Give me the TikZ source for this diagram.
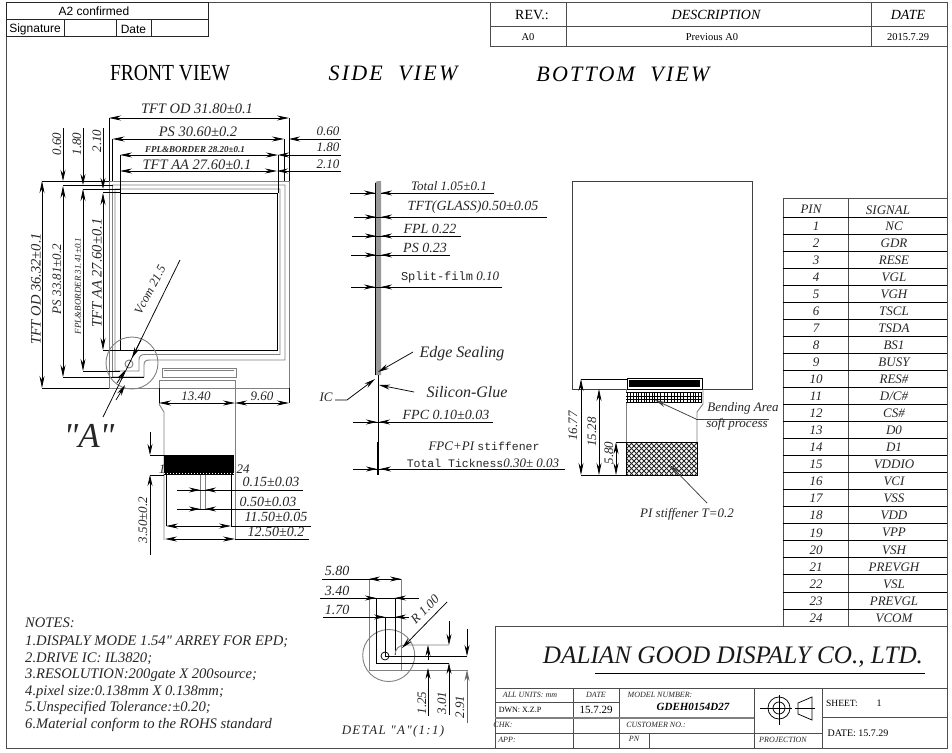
\documentclass[tikz,border=0pt]{standalone}
\usepackage{fontspec}
\setmainfont{Liberation Serif}
\newfontfamily\sansfont{Liberation Sans}
\newfontfamily\monofont{Liberation Mono}
\newfontfamily\headfont[FakeStretch=0.85]{Liberation Serif}
\newfontfamily\viewfont[LetterSpace=10]{Liberation Serif}
\newfontfamily\plainfont{Liberation Serif}
\usetikzlibrary{arrows.meta}
\tikzset{
    x=1pt, y=-1pt,
    frameline/.style={draw=black!70, line width=1pt},
    dimline/.style={draw=black, line width=0.75pt},
    greyline/.style={draw=black!50, line width=0.9pt},
    dimarrow/.style={draw=black, line width=0.75pt, -{Stealth[length=11pt,width=5pt]}},
    dimboth/.style={draw=black, line width=0.75pt, {Stealth[length=12pt,width=5pt]}-{Stealth[length=12pt,width=5pt]}},
    dimtext/.style={font=\fontsize{13}{13}\selectfont\itshape, inner sep=0pt, text=black!85},
    largetext/.style={font=\fontsize{14.5}{14.5}\selectfont\itshape, inner sep=0pt, text=black!85},
    notetext/.style={font=\fontsize{14.6}{14.6}\plainfont\itshape, inner sep=0pt, text=black!85, anchor=west},
    smalltext/.style={font=\fontsize{8}{8}\selectfont\itshape, inner sep=0pt, text=black!85},
    pintext/.style={font=\fontsize{13}{13}\selectfont\itshape, inner sep=0pt, text=black!85}
}
\begin{document}
\begin{tikzpicture}
    \useasboundingbox (0,0) rectangle (952,752);
    \fill[white] (0,0) rectangle (952,752);

    % Sheet frame
    \draw[frameline] (6,3) -- (947,3) -- (947,748) -- (6,748) -- cycle;

    % A2 table
    \draw[frameline, draw=black!85] (6,3) rectangle (208,37);
    \draw[frameline, draw=black!85] (6,20) -- (208,20);
    \draw[frameline, draw=black!85] (64,20) -- (64,37);
    \draw[frameline, draw=black!85] (116,20) -- (116,37);
    \draw[frameline, draw=black!85] (151,20) -- (151,37);
    \node[font=\fontsize{12}{12}\sansfont] (confirmed) at (94,11.5) {A2 confirmed};
    \node[font=\fontsize{12}{12}\sansfont] (signature) at (35,29) {Signature};
    \node[font=\fontsize{12}{12}\sansfont] (datecell) at (133.5,29) {Date};

    % Revision table
    \draw[frameline] (490,3) rectangle (947,47);
    \draw[frameline] (490,27) -- (947,27);
    \draw[frameline] (566,3) -- (566,47);
    \draw[frameline] (871,3) -- (871,47);
    \node[font=\fontsize{14}{14}\selectfont] (rev) at (532,15) {REV.:};
    \node[font=\fontsize{14}{14}\selectfont\itshape] (description) at (716,15) {DESCRIPTION};
    \node[font=\fontsize{14}{14}\selectfont\itshape] (daterev) at (908,15) {DATE};
    \node[font=\fontsize{10.5}{10.5}\selectfont] (aa) at (528,37.5) {A0};
    \node[font=\fontsize{10.5}{10.5}\selectfont] (previous) at (712,37.5) {Previous A0};
    \node[font=\fontsize{10.5}{10.5}\selectfont] (revdate) at (908,37.5) {2015.7.29};

    % View titles
    \node[font=\fontsize{23}{23}\headfont] (frontview) at (170,73) {FRONT VIEW};
    \node[font=\fontsize{22}{22}\viewfont\itshape] (sideview) at (393,73) {SIDE\ \ VIEW};
    \node[font=\fontsize{22}{22}\viewfont\itshape] (bottomview) at (623,74) {BOTTOM\ \ VIEW};

    % Front view, panel contours
    \draw[greyline] (109,181) -- (289,181) -- (289,388) -- (109,388) -- cycle;
    \draw[greyline] (112.5,185) -- (285,185) -- (285,360) -- (150,360)
        .. controls (146,360) and (144,361) .. (144,365) -- (144,377) -- (112.5,377) -- cycle;
    \draw[greyline] (115,189) -- (280,189) -- (280,354.5) -- (145,354.5)
        .. controls (141,354.5) and (139,356) .. (139,360) -- (139,371) -- (115,371) -- cycle;
    \draw[dimline] (120,193) -- (277,193) -- (277,350.5) -- (120,350.5) -- cycle;

    % Front view, FPC tail
    \draw[greyline] (162,368) rectangle (236,377);
    \draw[greyline] (164,370) -- (234,370);
    \draw[greyline] (159,404) -- (159,380) -- (235,380) -- (235,540);
    \draw[greyline] (159,404) -- (164,412) -- (164,540);
    \fill[black] (164,455) rectangle (234,475);
    \draw[white, line width=1pt, dash pattern=on 1pt off 2pt] (164,473.5) -- (234,473.5);
    \draw[greyline] (200,475) -- (200,510);
    \draw[greyline] (205,475) -- (205,510);

    % Front view, top dimensions
    \draw[dimline] (109,118) -- (109,181);
    \draw[dimline] (289,118) -- (289,181);
    \draw[dimline] (112.5,139) -- (112.5,181);
    \draw[dimline] (284,139) -- (284,181);
    \draw[dimline] (120,155) -- (120,193);
    \draw[dimline] (278,155) -- (278,193);
    \draw[dimboth] (109,118) -- (289,118);
    \draw[dimboth] (112.5,139) -- (284,139);
    \draw[dimboth] (120,155) -- (278,155);
    \draw[dimboth] (120,171) -- (277,171);
    \node[largetext] (tftod) at (197,109) {TFT OD 31.80±0.1};
    \node[largetext] (psw) at (198,132) {PS 30.60±0.2};
    \node[smalltext, font=\fontsize{9}{9}\selectfont\itshape\bfseries] (fplw) at (195,149.5) {FPL\&BORDER 28.20±0.1};
    \node[largetext] (tftaa) at (197,165) {TFT AA 27.60±0.1};

    % Front view, right offsets
    \draw[dimarrow] (341,139) -- (289,139);
    \draw[dimarrow] (341,155) -- (278,155);
    \draw[dimarrow] (341,171) -- (277,171);
    \node[dimtext] (rightsix) at (328,131) {0.60};
    \node[dimtext] (righteight) at (328,147) {1.80};
    \node[dimtext] (rightten) at (328,164) {2.10};

    % Front view, left dimensions
    \draw[dimline] (42,181) -- (109,181);
    \draw[dimline] (63,185.5) -- (113,185.5);
    \draw[dimline] (83,189) -- (120,189);
    \draw[dimline] (103,192.5) -- (120,192.5);
    \draw[dimline] (42,388) -- (109,388);
    \draw[dimline] (63,377) -- (144,377);
    \draw[dimline] (83,371) -- (120,371);
    \draw[dimline] (103,350.5) -- (120,350.5);
    \draw[dimboth] (42,181) -- (42,388);
    \draw[dimboth] (63,186) -- (63,377);
    \draw[dimboth] (83,189) -- (83,371);
    \draw[dimboth] (103,193) -- (103,350);
    \draw[dimarrow] (63,128) -- (63,181);
    \draw[dimarrow] (83,128) -- (83,185);
    \draw[dimarrow] (103,128) -- (103,189);
    \node[dimtext, rotate=90] (topsix) at (57,144) {0.60};
    \node[dimtext, rotate=90] (topeight) at (77,144) {1.80};
    \node[dimtext, rotate=90] (topten) at (97,141) {2.10};
    \node[largetext, rotate=90] (tftodh) at (36,289) {TFT OD 36.32±0.1};
    \node[dimtext, rotate=90] (psh) at (57,279) {PS 33.81±0.2};
    \node[smalltext, rotate=90, font=\fontsize{9}{9}\selectfont\itshape] (fplh) at (78,286) {FPL\&BORDER 31.41±0.1};
    \node[largetext, rotate=90] (tftaah) at (97,273) {TFT AA 27.60±0.1};

    % Front view, detail circle
    \draw[greyline] (132,363) circle (26pt);
    \draw[greyline] (129,364) circle (4pt);
    \draw[dimline] (180,260) -- (103,417);
    \draw[dimarrow] (141,340) -- (132,358);
    \draw[dimarrow] (117,383) -- (125.5,370);
    \draw[dimarrow] (116,400) -- (125,385);
    \node[dimtext, rotate=62, font=\fontsize{12.5}{12.5}\selectfont\itshape] (vcom) at (150,290) {Vcom 21.5};
    \node[font=\fontsize{35}{35}\plainfont\itshape, inner sep=0pt, text=black!85] (detaila) at (89,436) {"A"};

    % Front view, tail dimensions
    \draw[dimline] (289,388) -- (289,403);
    \draw[dimline] (159,388) -- (159,403);
    \draw[dimboth] (159,403) -- (235,403);
    \draw[dimboth] (235,403) -- (289,403);
    \node[dimtext] (tailleft) at (196,396) {13.40};
    \node[dimtext] (tailright) at (262,396) {9.60};
    \node[dimtext] (pinone) at (162,469) {1};
    \node[dimtext] (pinlast) at (243,469) {24};
    \draw[dimline] (150,455) -- (164,455);
    \draw[dimline] (150,475) -- (164,475);
    \draw[dimarrow] (150,432) -- (150,455);
    \draw[dimarrow] (150,555) -- (150,475);
    \node[dimtext, rotate=90] (contact) at (143,520) {3.50±0.2};
    \draw[dimline] (166,475) -- (166,526);
    \draw[dimline] (231,475) -- (231,526);
    \draw[dimline] (177,490) -- (303,490);
    \draw[dimarrow] (187,490) -- (200,490);
    \draw[dimarrow] (218,490) -- (205,490);
    \draw[dimline] (177,509) -- (300,509);
    \draw[dimarrow] (187,509) -- (200,509);
    \draw[dimarrow] (218,509) -- (205,509);
    \draw[dimline] (231,526) -- (311,526);
    \draw[dimboth] (166,526) -- (231,526);
    \draw[dimline] (235,539) -- (309,539);
    \draw[dimboth] (165,539) -- (235,539);
    \node[dimtext, font=\fontsize{14}{14}\selectfont\itshape] (pitcha) at (271,482) {0.15±0.03};
    \node[dimtext, font=\fontsize{14}{14}\selectfont\itshape] (pitchb) at (268,502) {0.50±0.03};
    \node[dimtext, font=\fontsize{14}{14}\selectfont\itshape] (pitchc) at (276,517) {11.50±0.05};
    \node[dimtext, font=\fontsize{14}{14}\selectfont\itshape] (pitchd) at (276,532) {12.50±0.2};

    % Side view
    \fill[black!40] (375,183) -- (377,181) -- (381,181) -- (381,375) -- (375,375) -- cycle;
    \draw[dimline] (375.5,183) -- (375.5,375);
    \draw[dimline] (378,375) -- (378,475);
    \draw[dimline, line width=1.6pt] (378,442) -- (378,475);

    % Side view, thickness dimensions
    \draw[dimline] (350,193) -- (375,193);
    \draw[dimarrow] (362,193) -- (375,193);
    \draw[dimline] (381,193) -- (494,193);
    \draw[dimarrow] (394,193) -- (381,193);
    \draw[dimline] (354,217) -- (547,217);
    \draw[dimarrow] (366,217) -- (376,217);
    \draw[dimarrow] (391,217) -- (381,217);
    \draw[dimline] (352,236) -- (461,236);
    \draw[dimarrow] (364,236) -- (376,236);
    \draw[dimarrow] (391,236) -- (381,236);
    \draw[dimline] (351,255) -- (450,255);
    \draw[dimarrow] (363,255) -- (376,255);
    \draw[dimarrow] (391,255) -- (381,255);
    \draw[dimline] (351,287) -- (502,287);
    \draw[dimarrow] (362,287) -- (375,287);
    \draw[dimarrow] (391,287) -- (381,287);
    \draw[dimline] (353,422) -- (493,422);
    \draw[dimarrow] (365,422) -- (377,422);
    \draw[dimarrow] (391,422) -- (379,422);
    \draw[dimline] (353,469) -- (565,469);
    \draw[dimarrow] (365,469) -- (377,469);
    \draw[dimarrow] (392,469) -- (380,469);
    \node[dimtext] (total) at (449,186) {Total 1.05±0.1};
    \node[dimtext, font=\fontsize{14}{14}\selectfont\itshape] (glass) at (473,207) {TFT(GLASS)0.50±0.05};
    \node[dimtext, font=\fontsize{14}{14}\selectfont\itshape] (fplt) at (430,229) {FPL 0.22};
    \node[dimtext, font=\fontsize{14}{14}\selectfont\itshape] (pst) at (425,248) {PS 0.23};
    \node[dimtext] (split) at (450,277) {{\fontsize{12}{12}\monofont\upshape Split-film} 0.10};
    \node[dimtext, font=\fontsize{14}{14}\selectfont\itshape] (fpct) at (446,415) {FPC 0.10±0.03};
    \node[dimtext] (stiffener) at (484,446) {FPC+PI {\fontsize{11.5}{11.5}\monofont\upshape stiffener}};
    \node[dimtext] (thickness) at (483,463) {{\fontsize{11.5}{11.5}\monofont\upshape Total Tickness}0.30± 0.03};

    % Side view, leaders
    \node[font=\fontsize{16}{16}\selectfont\itshape, inner sep=0pt, text=black!85] (edge) at (462,354) {Edge Sealing};
    \node[font=\fontsize{16}{16}\selectfont\itshape, inner sep=0pt, text=black!85] (silicon) at (467,392) {Silicon-Glue};
    \node[font=\fontsize{13}{13}\selectfont\itshape, inner sep=0pt, text=black!85] (ic) at (326,397) {IC};
    \draw[dimarrow] (413,352) -- (378,372);
    \draw[dimarrow] (414,392) -- (379,385);
    \draw[dimarrow] (335,400) -- (347,400) -- (375,379);

    % Bottom view
    \draw[dimline, draw=black!75] (572,181) rectangle (752,389);
    \draw[dimline] (627,378) rectangle (702,389);
    \fill[black] (628.5,379.5) rectangle (700,387);
    \draw[greyline] (626.5,389) -- (626.5,475);
    \draw[greyline] (703,389) -- (703,404) -- (697,412) -- (697,442);
    \fill[white] (626,392) rectangle (702,402);
    \foreach \gridx in {627,630,633,636,638,641,644,646,649,652,654,657,660,664,667,671,674,677,680,683,687,690,693,695,698,701}
        \draw[black, line width=0.6pt] (\gridx,392) -- (\gridx,402);
    \draw[dimline] (626,392) -- (702,392);
    \draw[dimline] (626,396) -- (702,396);
    \draw[dimline] (626,399) -- (702,399);
    \draw[dimline, line width=1pt] (626,402) -- (702,402);

    % Bottom view, PI stiffener hatch
    \begin{scope}
        \clip (626,442) rectangle (697,475);
        \foreach \hatchx in {590,595,...,710} {
            \draw[black!85, line width=0.9pt] (\hatchx,442) -- (\hatchx+33,475);
            \draw[black!85, line width=0.9pt] (\hatchx+33,442) -- (\hatchx,475);
        }
    \end{scope}
    \draw[dimline] (626,442) rectangle (697,475);

    % Bottom view, dimensions
    \draw[dimline] (581,379) -- (628,379);
    \draw[dimline] (581,475) -- (628,475);
    \draw[dimline] (616,442) -- (626,442);
    \draw[dimboth, line width=0.9pt] (581,379) -- (581,475);
    \draw[dimboth, line width=0.9pt] (599,389) -- (599,475);
    \draw[dimboth, line width=0.9pt] (616,442) -- (616,475);
    \node[dimtext, rotate=90] (botfull) at (573,426) {16.77};
    \node[dimtext, rotate=90] (botpart) at (592,432) {15.28};
    \node[dimtext, rotate=90] (botshort) at (609,453) {5.80};

    % Bottom view, leaders
    \draw[dimarrow, draw=black!75] (696,419) -- (655,400);
    \draw[dimline, draw=black!75] (696,419) -- (769,419);
    \draw[dimarrow, draw=black!75] (707,503) -- (670,465);
    \node[dimtext] (bending) at (743,408) {Bending Area};
    \node[dimtext] (softproc) at (737,424) {soft process};
    \node[dimtext] (pistiff) at (687,514) {PI stiffener T=0.2};

    % Pin table
    \draw[frameline] (783,198) -- (947,198);
    \draw[frameline] (783,198) -- (783,626);
    \draw[frameline] (848,198) -- (848,626);
    \foreach \row in {0,...,24}
        \draw[dimline] (783,217+17.04*\row) -- (947,217+17.04*\row);
    \node[pintext] (pinhead) at (811,209) {PIN};
    \node[pintext] (signalhead) at (888,210) {SIGNAL};
    \foreach \pin/\signal in {1/NC,2/GDR,3/RESE,4/VGL,5/VGH,6/TSCL,7/TSDA,8/BS1,9/BUSY,10/RES\#,11/{D/C\#},12/CS\#,13/D0,14/D1,15/VDDIO,16/VCI,17/VSS,18/VDD,19/VPP,20/VSH,21/PREVGH,22/VSL,23/PREVGL,24/VCOM} {
        \node[pintext] (pin\pin) at (816,209+17.04*\pin) {\pin};
        \node[pintext] (signal\pin) at (894,209+17.04*\pin) {\signal};
    }

    % Detail A
    \draw[greyline] (388.7,655.5) circle (26pt);
    \draw[dimline] (385,656) circle (4pt);
    \draw[greyline] (369,579) -- (369,670) -- (468,670);
    \draw[greyline] (401,579) -- (401,670);
    \draw[dimline] (376,598) -- (376,663) -- (449,663);
    \draw[dimline] (385,617) -- (385,656) -- (467,656);
    \draw[dimline] (395,598) -- (395,655);
    \draw[greyline] (395,655) .. controls (395,649) and (399,645) .. (405,645) -- (449,645);
    \draw[dimline] (322,579) -- (401,579);
    \draw[dimarrow] (381,579) -- (369,579);
    \draw[dimarrow] (389,579) -- (401,579);
    \draw[dimline] (320,598) -- (419,598);
    \draw[dimarrow] (364,598) -- (376,598);
    \draw[dimarrow] (407,598) -- (395,598);
    \draw[dimline] (323,617) -- (409,617);
    \draw[dimarrow] (364,617) -- (385,617);
    \draw[dimarrow] (404,617) -- (395,617);
    \node[dimtext, font=\fontsize{14}{14}\selectfont\itshape] (detaillong) at (337,571) {5.80};
    \node[dimtext, font=\fontsize{14}{14}\selectfont\itshape] (detailmid) at (337,591) {3.40};
    \node[dimtext, font=\fontsize{14}{14}\selectfont\itshape] (detailshort) at (337,610) {1.70};
    \draw[dimarrow] (447,602) -- (402,648);
    \node[dimtext, rotate=45] (radius) at (425,609) {R 1.00};
    \draw[dimarrow] (428,660) -- (428,645);
    \draw[dimarrow] (428,716) -- (428,668);
    \draw[dimarrow] (449,621) -- (449,645);
    \draw[dimarrow] (449,715) -- (449,663);
    \draw[dimarrow] (467,629) -- (467,656);
    \draw[dimarrow, draw=black!60] (467,723) -- (467,670);
    \node[dimtext, rotate=90] (detaila25) at (422,703) {1.25};
    \node[dimtext, rotate=90] (detaila01) at (442,703) {3.01};
    \node[dimtext, rotate=90] (detaila91) at (460,707) {2.91};
    \node[font=\fontsize{13}{13}\viewfont\itshape, inner sep=0pt, text=black!85] (detailname) at (393,731) {DETAL "A"(1:1)};

    % Notes
    \node[notetext] (notes) at (25,623) {NOTES:};
    \node[notetext] (noteone) at (25,642) {1.DISPALY MODE 1.54" ARREY FOR EPD;};
    \node[notetext] (notetwo) at (25,659) {2.DRIVE IC: IL3820;};
    \node[notetext] (notethree) at (25,675) {3.RESOLUTION:200gate X 200source;};
    \node[notetext] (notefour) at (25,692) {4.pixel size:0.138mm X 0.138mm;};
    \node[notetext] (notefive) at (25,708) {5.Unspecified Tolerance:±0.20;};
    \node[notetext] (notesix) at (25,725) {6.Material conform to the ROHS standard};

    % Title block
    \draw[frameline] (495,626) rectangle (947,748);
    \draw[frameline] (495,688) -- (947,688);
    \draw[frameline] (573,688) -- (573,748);
    \draw[frameline] (619,688) -- (619,748);
    \draw[frameline] (754,688) -- (754,748);
    \draw[frameline] (822,688) -- (822,748);
    \draw[frameline] (495,702) -- (619,702);
    \draw[greyline, line width=1.4pt] (495,718) -- (754,718);
    \draw[frameline] (495,733) -- (822,733);
    \draw[frameline] (649,733) -- (649,748);
    \draw[frameline] (822,717) -- (947,717);
    \node[font=\fontsize{25.2}{25.2}\selectfont\itshape, inner sep=0pt, text=black!90] (company) at (733,657) {DALIAN GOOD DISPALY CO., LTD.};
    \draw[dimline] (595,673) -- (925,673);
    \node[smalltext] (units) at (530,695) {ALL UNITS: mm};
    \node[smalltext] (dateblock) at (596,695) {DATE};
    \node[smalltext] (model) at (660,695) {MODEL NUMBER:};
    \node[font=\fontsize{11}{11}\selectfont\itshape\bfseries, inner sep=0pt] (modelname) at (693,707) {GDEH0154D27};
    \node[font=\fontsize{8}{8}\selectfont, inner sep=0pt] (drawn) at (520,710) {DWN: X.Z.P};
    \node[font=\fontsize{11}{11}\selectfont, inner sep=0pt] (drawndate) at (596,710) {15.7.29};
    \node[smalltext] (checked) at (503,725) {CHK:};
    \node[smalltext] (customer) at (656,725) {CUSTOMER NO.:};
    \node[smalltext] (approved) at (507,740) {APP:};
    \node[smalltext] (partno) at (634,739) {PN};
    \node[smalltext] (projection) at (783,740) {PROJECTION};
    \node[font=\fontsize{9.5}{9.5}\selectfont, inner sep=0pt] (sheet) at (842,703) {SHEET:};
    \node[font=\fontsize{10}{10}\selectfont, inner sep=0pt] (sheetno) at (879,703) {1};
    \node[font=\fontsize{10}{10}\selectfont, inner sep=0pt] (blockdate) at (858,733) {DATE: 15.7.29};

    % Projection symbol
    \draw[dimline] (779,708) circle (11pt);
    \draw[dimline] (779,708) circle (6pt);
    \draw[dimline] (760,708) -- (792,708);
    \draw[dimline] (779,695) -- (779,725);
    \draw[dimline] (798,703) -- (812,697) -- (812,720) -- (798,714) -- cycle;
    \draw[dimline] (795,708) -- (815,708);
\end{tikzpicture}
\end{document}
